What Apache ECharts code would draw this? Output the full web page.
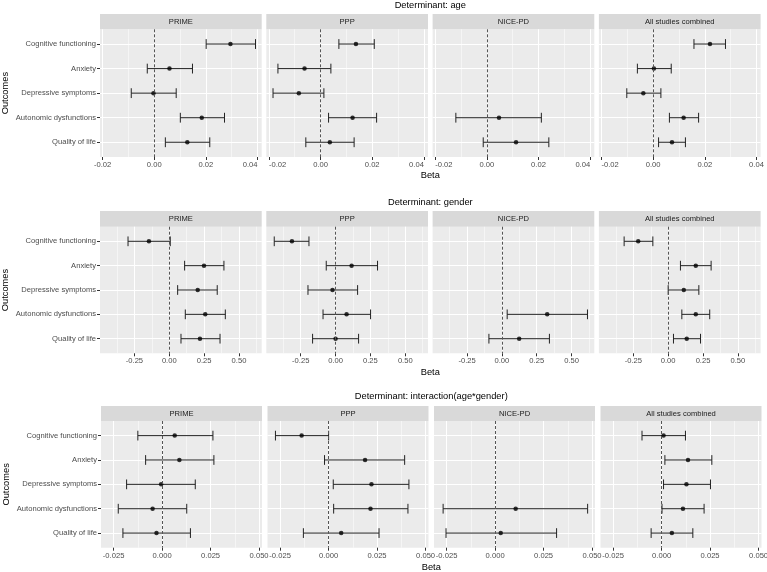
<!DOCTYPE html>
<html><head><meta charset="utf-8">
<script src="https://cdn.jsdelivr.net/npm/echarts@6/dist/echarts.min.js"></script>
<style>html,body{margin:0;padding:0;background:#fff}#c{width:767px;height:572px}</style>
</head><body><div id="c"></div>
<script>
const outcomes = ['Cognitive functioning','Anxiety','Depressive symptoms','Autonomic dysfunctions','Quality of life'];
const studies = ['PRIME','PPP','NICE-PD','All studies combined'];
const determinants = ['Determinant: age','Determinant: gender','Determinant: interaction(age*gender)'];

// [outcome, beta, lower, upper]
const agePRIME = [['Cognitive functioning',0.0295,0.0201,0.0392],['Anxiety',0.0059,-0.0027,0.0148],['Depressive symptoms',-0.0003,-0.0089,0.0085],['Autonomic dysfunctions',0.0184,0.0101,0.0272],['Quality of life',0.0128,0.0043,0.0215]];
const agePPP = [['Cognitive functioning',0.0137,0.0071,0.0208],['Anxiety',-0.0062,-0.0165,0.0040],['Depressive symptoms',-0.0084,-0.0184,0.0013],['Autonomic dysfunctions',0.0124,0.0031,0.0217],['Quality of life',0.0036,-0.0057,0.0130]];
const ageNICE = [['Autonomic dysfunctions',0.0047,-0.0120,0.0211],['Quality of life',0.0113,-0.0014,0.0240]];
const ageAll = [['Cognitive functioning',0.0220,0.0158,0.0280],['Anxiety',0.0003,-0.0061,0.0070],['Depressive symptoms',-0.0038,-0.0102,0.0030],['Autonomic dysfunctions',0.0118,0.0063,0.0176],['Quality of life',0.0073,0.0021,0.0125]];

const genderPRIME = [['Cognitive functioning',-0.146,-0.296,0.007],['Anxiety',0.249,0.110,0.392],['Depressive symptoms',0.204,0.060,0.344],['Autonomic dysfunctions',0.258,0.115,0.402],['Quality of life',0.220,0.084,0.364]];
const genderPPP = [['Cognitive functioning',-0.313,-0.440,-0.191],['Anxiety',0.115,-0.067,0.301],['Depressive symptoms',-0.022,-0.198,0.158],['Autonomic dysfunctions',0.079,-0.090,0.251],['Quality of life',0.000,-0.165,0.165]];
const genderNICE = [['Autonomic dysfunctions',0.325,0.038,0.614],['Quality of life',0.124,-0.093,0.341]];
const genderAll = [['Cognitive functioning',-0.215,-0.316,-0.110],['Anxiety',0.198,0.088,0.308],['Depressive symptoms',0.112,0.000,0.220],['Autonomic dysfunctions',0.198,0.098,0.298],['Quality of life',0.133,0.038,0.232]];

const interPRIME = [['Cognitive functioning',0.0065,-0.0125,0.0262],['Anxiety',0.0089,-0.0085,0.0267],['Depressive symptoms',-0.0005,-0.0183,0.0171],['Autonomic dysfunctions',-0.0049,-0.0226,0.0127],['Quality of life',-0.0029,-0.0202,0.0146]];
const interPPP = [['Cognitive functioning',-0.0139,-0.0274,0.0000],['Anxiety',0.0188,-0.0021,0.0392],['Depressive symptoms',0.0221,0.0024,0.0414],['Autonomic dysfunctions',0.0216,0.0026,0.0409],['Quality of life',0.0065,-0.0130,0.0260]];
const interNICE = [['Autonomic dysfunctions',0.0106,-0.0268,0.0477],['Quality of life',0.0029,-0.0253,0.0317]];
const interAll = [['Cognitive functioning',0.0010,-0.0101,0.0123],['Anxiety',0.0136,0.0017,0.0259],['Depressive symptoms',0.0128,0.0010,0.0252],['Autonomic dysfunctions',0.0110,0.0002,0.0219],['Quality of life',0.0053,-0.0054,0.0161]];

const ageTicks = [-0.02, 0.00, 0.02, 0.04];
const ageMinor = [-0.01, 0.01, 0.03];
const genderTicks = [-0.25, 0.00, 0.25, 0.50];
const genderMinor = [-0.375, -0.125, 0.125, 0.375, 0.625];
const interTicks = [-0.025, 0.000, 0.025, 0.050];
const interMinor = [-0.0125, 0.0125, 0.0375];

const rowData = [
  [agePRIME, agePPP, ageNICE, ageAll],
  [genderPRIME, genderPPP, genderNICE, genderAll],
  [interPRIME, interPPP, interNICE, interAll]
];
const rowTicks = [ageTicks, genderTicks, interTicks];
const rowMinor = [ageMinor, genderMinor, interMinor];
const rowDec = [2, 2, 3];
const rowRange = [[-0.021, 0.0416], [-0.497, 0.663], [-0.0315, 0.0515]];
const rowEdgeAlign = [true, false, false];

// layout
const layout = [
  {stripTop: 14, top: 29.3, bottom: 157, left: 100, step: 166.3, width: 161.7, titleY: 5, betaY: 175, outX: 5.5},
  {stripTop: 211, top: 226.7, bottom: 353.3, left: 100, step: 166.3, width: 161.7, titleY: 202.7, betaY: 372.7, outX: 5.5},
  {stripTop: 406, top: 421, bottom: 547.7, left: 101, step: 166.5, width: 161, titleY: 396.7, betaY: 567.3, outX: 6.5}
];

const FONT = 'Liberation Sans, Arial, sans-serif';
const grids = [], xAxes = [], yAxes = [], series = [], graphics = [];

for (let r = 0; r < 3; r++) {
  const L = layout[r];
  for (let c = 0; c < 4; c++) {
    const g = r * 4 + c;
    const left = L.left + c * L.step;
    grids.push({left: left, top: L.top, width: L.width, height: L.bottom - L.top,
      show: true, backgroundColor: '#EBEBEB', borderWidth: 0, containLabel: false, outerBoundsMode: 'none'});
    const lab = {customValues: rowTicks[r], formatter: (v) => Number(v).toFixed(rowDec[r]), color: '#4D4D4D', fontSize: 7.6, fontFamily: FONT, margin: 4};
    if (rowEdgeAlign[r]) {
      if (c > 0) lab.alignMinLabel = 'left';
      if (c < 3) lab.alignMaxLabel = 'right';
    }
    xAxes.push({type: 'value', gridIndex: g, min: rowRange[r][0], max: rowRange[r][1], position: 'bottom',
      axisLine: {show: false, onZero: false},
      axisTick: {show: true, customValues: rowTicks[r], length: 3, lineStyle: {color: '#333', width: 1}},
      axisLabel: lab,
      splitLine: {show: true, lineStyle: {color: '#fff', width: 1}}});
    xAxes.push({type: 'value', gridIndex: g, min: rowRange[r][0], max: rowRange[r][1], position: 'bottom',
      axisLine: {show: false, onZero: false},
      axisTick: {show: false, customValues: rowMinor[r]},
      axisLabel: {show: false},
      splitLine: {show: true, lineStyle: {color: '#fff', width: 0.5}}});
    yAxes.push({type: 'value', gridIndex: g, inverse: true, min: 0.4, max: 5.6,
      axisLine: {show: false, onZero: false},
      axisTick: {show: c === 0, customValues: [1, 2, 3, 4, 5], length: 3, lineStyle: {color: '#333', width: 1}},
      axisLabel: {show: c === 0, customValues: [1, 2, 3, 4, 5], formatter: (v) => outcomes[Math.round(v) - 1], color: '#4D4D4D', fontSize: 7.6, fontFamily: FONT, margin: 4},
      splitLine: {show: true, lineStyle: {color: '#fff', width: 1}}});

    const d = rowData[r][c];
    series.push({
      type: 'custom', xAxisIndex: 2 * g, yAxisIndex: g, silent: true, z: 3,
      data: d.map(e => [e[2], e[3], outcomes.indexOf(e[0]) + 1]),
      encode: {x: [0, 1], y: 2},
      renderItem: function (params, api) {
        const y = api.value(2);
        const p1 = api.coord([api.value(0), y]);
        const p2 = api.coord([api.value(1), y]);
        const h = Math.abs(api.size([0, 0.2])[1]);
        const st = {stroke: '#222', lineWidth: 1, fill: null};
        return {type: 'group', children: [
          {type: 'line', shape: {x1: p1[0], y1: p1[1], x2: p2[0], y2: p2[1]}, style: st},
          {type: 'line', shape: {x1: p1[0], y1: p1[1] - h, x2: p1[0], y2: p1[1] + h}, style: st},
          {type: 'line', shape: {x1: p2[0], y1: p2[1] - h, x2: p2[0], y2: p2[1] + h}, style: st}
        ]};
      }
    });
    series.push({
      type: 'scatter', xAxisIndex: 2 * g, yAxisIndex: g, silent: true, z: 4,
      symbol: 'circle', symbolSize: 4.5, itemStyle: {color: '#000'},
      data: d.map(e => [e[1], outcomes.indexOf(e[0]) + 1]),
      markLine: {silent: true, symbol: 'none', label: {show: false},
        lineStyle: {color: '#555', type: [3, 2], width: 1},
        data: [{xAxis: 0}], animation: false}
    });

    graphics.push({type: 'rect', shape: {x: left, y: L.stripTop, width: L.width, height: L.top - L.stripTop},
      style: {fill: '#D9D9D9'}, silent: true});
    graphics.push({type: 'text', x: left + L.width / 2, y: (L.stripTop + L.top) / 2,
      style: {text: studies[c], align: 'center', verticalAlign: 'middle', fontSize: 7.6, fontFamily: FONT, fill: '#1A1A1A'}, silent: true});
  }
  const cx = (L.left + L.left + 3 * L.step + L.width) / 2;
  graphics.push({type: 'text', x: cx, y: L.titleY,
    style: {text: determinants[r], align: 'center', verticalAlign: 'middle', fontSize: 9.3, fontFamily: FONT, fill: '#000'}, silent: true});
  graphics.push({type: 'text', x: cx, y: L.betaY,
    style: {text: 'Beta', align: 'center', verticalAlign: 'middle', fontSize: 9.3, fontFamily: FONT, fill: '#000'}, silent: true});
  graphics.push({type: 'text', x: L.outX, y: (L.top + L.bottom) / 2, rotation: Math.PI / 2,
    style: {text: 'Outcomes', align: 'center', verticalAlign: 'middle', fontSize: 9.3, fontFamily: FONT, fill: '#000'}, silent: true});
}

const chart = echarts.init(document.getElementById('c'), null, {renderer: 'canvas'});
chart.setOption({
  animation: false,
  backgroundColor: '#fff',
  grid: grids, xAxis: xAxes, yAxis: yAxes, series: series, graphic: graphics
});
</script></body></html>
